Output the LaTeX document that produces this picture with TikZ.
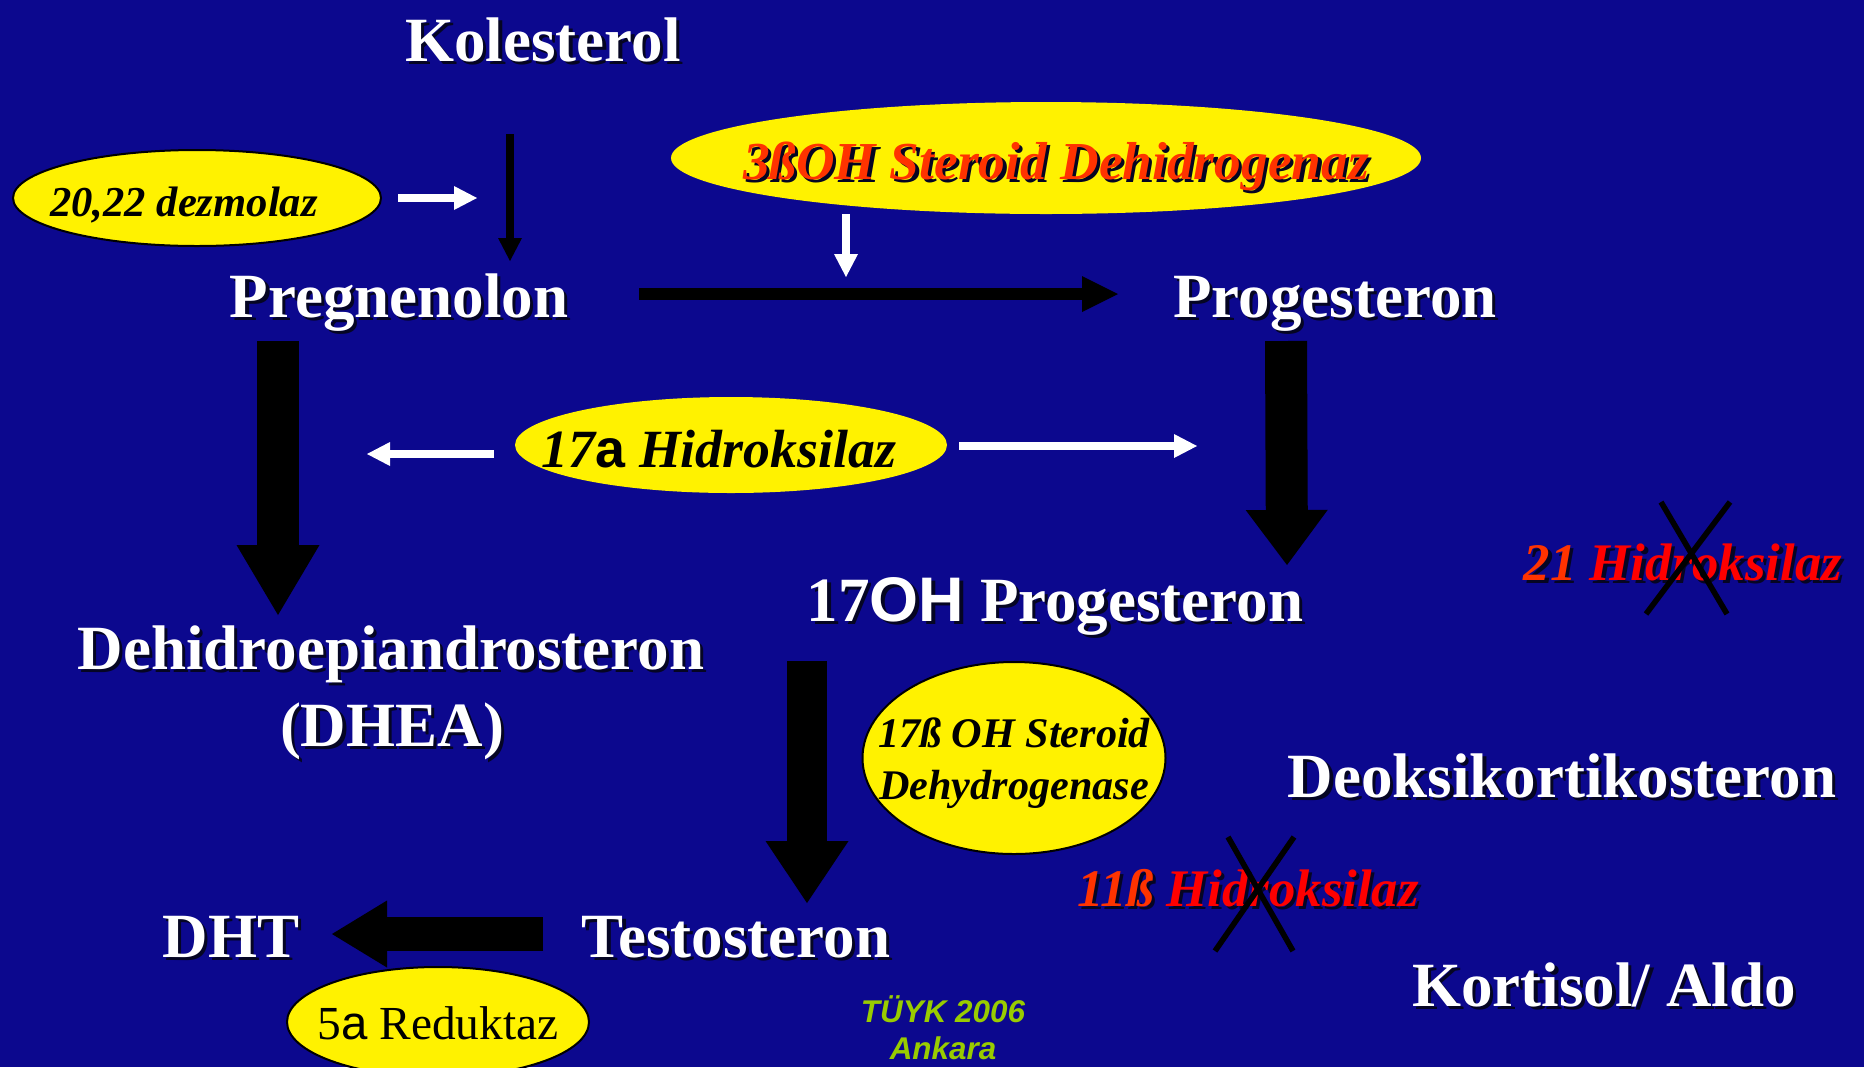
\documentclass[tikz,border=0pt]{standalone}
\usepackage{fontspec}
\setmainfont{Liberation Serif}
\newfontfamily\arialfont{Liberation Sans}
\usetikzlibrary{shapes.geometric}
\usetikzlibrary{arrows.meta}

\definecolor{slideblue}{RGB}{12,8,142}
\definecolor{orangered}{RGB}{255,51,0}
\definecolor{shadowc}{RGB}{5,5,35}
\definecolor{tuykgreen}{RGB}{153,204,0}

\newcommand{\ocol}{orangered}
\newcommand{\ored}[1]{\textcolor{\ocol}{#1}}
\newcommand{\shd}[1]{\makebox[0pt][l]{\hspace*{1.6pt}\raisebox{-1.6pt}{\def\ocol{shadowc}\color{shadowc}#1}}#1}
% #1 = baseline below the ellipse centre
\newcommand{\enztext}[2]{\raisebox{-#1}[0pt][0pt]{\makebox[0pt]{#2}}}

\tikzset{
  metab/.style={text=white, anchor=base, inner sep=0pt, font=\fontsize{31.5}{38.5}\selectfont\bfseries},
  enz/.style={ellipse, fill=yellow, inner sep=0pt, text=black},
  lost/.style={text=red, anchor=base, inner sep=0pt, font=\fontsize{26.4}{30}\selectfont\bfseries\itshape},
  blockarrow/.style n args={3}{line width=#1, -{Triangle[length=#2, width=#3, line width=0pt]}},
  thinarrow/.style={line width=4pt, -{Triangle[length=11.5pt, width=12pt, line width=0pt]}},
  xmark/.style={line width=2.8pt, black},
  note/.style={text=tuykgreen, anchor=base, inner sep=0pt, font=\arialfont\fontsize{15.7}{18}\selectfont\bfseries\itshape}
}

\begin{document}
\begin{tikzpicture}[x=0.5pt, y=-0.5pt]
    \useasboundingbox (0,0) rectangle (1864,1067);
    \fill[slideblue] (0,0) rectangle (1864,1067);
    \clip (0,0) rectangle (1864,1067);

    % steroids
    \node[metab] (kol) at (543,61) {\shd{Kolesterol}};
    \node[metab] (preg) at (399,317) {\shd{Pregnenolon}};
    \node[metab] (prog) at (1335,317) {\shd{Progesteron}};
    \node[metab] (ohprog) at (1055,621) {\shd{17{\arialfont OH} Progesteron}};
    \node[metab] (dhea) at (391,669) {\shd{Dehidroepiandrosteron}};
    \node[metab] (dheab) at (392,746) {\shd{(DHEA)}};
    \node[metab] (doc) at (1562,797) {\shd{Deoksikortikosteron}};
    \node[metab] (kort) at (1604,1006) {\shd{Kortisol/ Aldo}};
    \node[metab] (dht) at (231,957) {\shd{DHT}};
    \node[metab] (testo) at (736,957) {\shd{Testosteron}};

    % enzymes
    \node[enz, draw=black, line width=1pt, minimum width=184pt, minimum height=48pt,
          font=\fontsize{21.3}{24}\selectfont\bfseries\itshape] (dezm) at (197,198)
          {\enztext{9.2pt}{\hspace*{-13pt}20,22 dezmolaz}};
    \node[enz, minimum width=375pt, minimum height=56pt, text=orangered,
          font=\fontsize{26.7}{30}\selectfont\bfseries\itshape] (hsd3) at (1046,158)
          {\enztext{10.5pt}{\hspace*{10pt}\shd{3ßOH Steroid Dehidrogenaz}}};
    \node[enz, minimum width=216pt, minimum height=48pt,
          font=\fontsize{26.9}{30}\selectfont\bfseries\itshape] (hyd17) at (731,445)
          {\enztext{11pt}{\hspace*{-12pt}17{\arialfont\upshape a} Hidroksilaz}};
    \node[enz, draw=black, line width=1pt, minimum width=151.5pt, minimum height=96pt,
          font=\fontsize{21.1}{26}\selectfont\bfseries\itshape] (hsd17) at (1014,758)
          {\enztext{-5.5pt}{\begin{tabular}[t]{@{}c@{}}17ß OH Steroid\\Dehydrogenase\end{tabular}}};
    \node[enz, draw=black, line width=1pt, minimum width=151pt, minimum height=55pt,
          font=\fontsize{23.7}{26}\selectfont] (red5) at (438,1022)
          {\enztext{8.5pt}{5{\arialfont a} Reduktaz}};

    % blocked steps
    \node[lost] (h21) at (1683,580) {\shd{\ored{21} Hidroksilaz}};
    \node[lost] (h11) at (1248,906) {\shd{\ored{11ß} Hidroksilaz}};
    \draw[xmark] (1661,502) -- (1727,614);
    \draw[xmark] (1730,502) -- (1646,614);
    \draw[xmark] (1228,837) -- (1293,951);
    \draw[xmark] (1294,837) -- (1215,951);

    \node[note] (tuyk) at (943,1022) {TÜYK 2006};
    \node[note] (ank) at (943,1059) {Ankara};

    % arrow ends
    \coordinate (kolout) at (510,134);
    \coordinate (pregin) at (510,261);
    \coordinate (dezmout) at (398,198);
    \coordinate (dezmin) at (477,198);
    \coordinate (hsdout) at (846,214);
    \coordinate (hsdin) at (846,277);
    \coordinate (pregright) at (639,294);
    \coordinate (progleft) at (1118,294);
    \coordinate (hydl) at (494,454);
    \coordinate (hydlend) at (367,454);
    \coordinate (hydr) at (959,446);
    \coordinate (hydrend) at (1197,446);
    \coordinate (pregdown) at (278,341);
    \coordinate (dheatop) at (278,615);
    \coordinate (progdown) at (1286,341);
    \coordinate (ohtop) at (1287,565);
    \coordinate (ohdown) at (807,661);
    \coordinate (testotop) at (807,903);
    \coordinate (testoleft) at (543,934);
    \coordinate (dhtright) at (332,934);

    % arrows
    \draw[thinarrow, black] (kolout) -- (pregin);
    \draw[thinarrow, white] (dezmout) -- (dezmin);
    \draw[thinarrow, white] (hsdout) -- (hsdin);
    \draw[thinarrow, white] (hydl) -- (hydlend);
    \draw[thinarrow, white] (hydr) -- (hydrend);
    \draw[blockarrow={6pt}{18pt}{18pt}, black] (pregright) -- (progleft);
    \draw[blockarrow={21pt}{35pt}{41.5pt}, black] (pregdown) -- (dheatop);
    \draw[blockarrow={21pt}{27.5pt}{41pt}, black] (progdown) -- (ohtop);
    \draw[blockarrow={20pt}{31pt}{41.5pt}, black] (ohdown) -- (testotop);
    \draw[blockarrow={17pt}{27.5pt}{33.5pt}, black] (testoleft) -- (dhtright);
\end{tikzpicture}
\end{document}
